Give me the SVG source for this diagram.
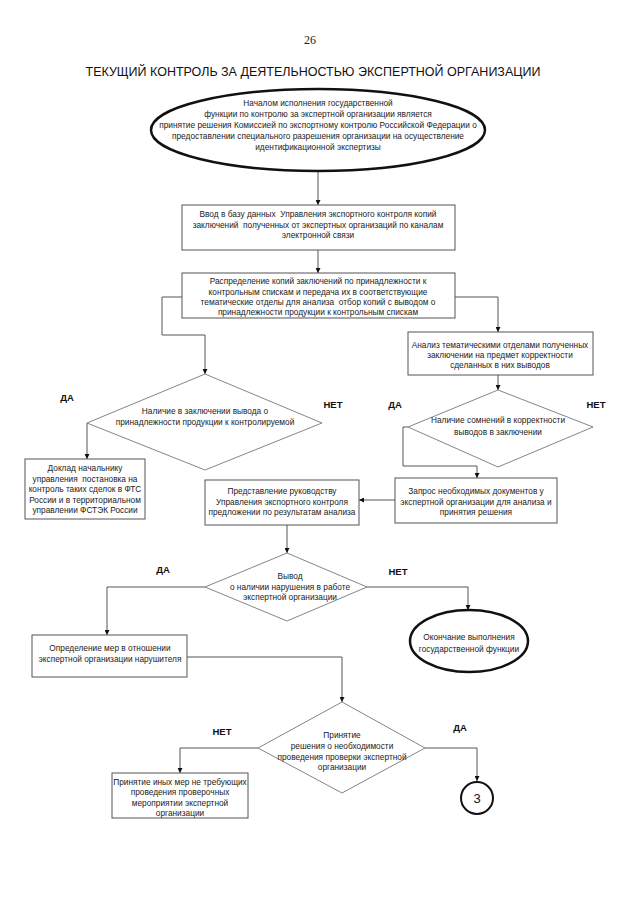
<svg xmlns="http://www.w3.org/2000/svg" width="640" height="905" viewBox="0 0 640 905">
<style>
  .t{font-family:"Liberation Sans",Arial,sans-serif;font-size:8.3px;fill:#222;text-anchor:middle;white-space:pre}
  .lbl{font-family:"Liberation Sans",Arial,sans-serif;font-size:9.5px;font-weight:bold;fill:#111;text-anchor:middle}
  .box{fill:#fff;stroke:#555;stroke-width:1}
  .ell{fill:#fff;stroke:#111;stroke-width:2.5}
  .dia{fill:#fff;stroke:#777;stroke-width:0.9}
  .con{fill:none;stroke:#444;stroke-width:0.9}
</style>
<defs>
  <marker id="arr" viewBox="0 0 10 10" refX="10" refY="5" markerWidth="5" markerHeight="5" markerUnits="userSpaceOnUse" orient="auto">
    <path d="M0,0 L10,5 L0,10 z" fill="#111"/>
  </marker>
</defs>
<rect width="640" height="905" fill="#fff"/>
<text x="310" y="44" style="font-family:'Liberation Serif',serif;font-size:12px;fill:#222" text-anchor="middle">26</text>
<text x="313" y="76" style="font-family:'Liberation Sans',Arial,sans-serif;font-size:12.5px;fill:#111" text-anchor="middle">ТЕКУЩИЙ КОНТРОЛЬ ЗА ДЕЯТЕЛЬНОСТЬЮ ЭКСПЕРТНОЙ ОРГАНИЗАЦИИ</text>

<g id="connectors">
  <path class="con" d="M318,171 V205" marker-end="url(#arr)"/>
  <path class="con" d="M318,250 V273" marker-end="url(#arr)"/>
  <path class="con" d="M455,297 H498 V332" marker-end="url(#arr)"/>
  <path class="con" d="M498,375 V390" marker-end="url(#arr)"/>
  <path class="con" d="M408,427 H403 V466 H477 V478" marker-end="url(#arr)"/>
  <path class="con" d="M395,500 H359" marker-end="url(#arr)"/>
  <path class="con" d="M287,525 V553" marker-end="url(#arr)"/>
  <path class="con" d="M182,297 H162 V335 H205 V374" marker-end="url(#arr)"/>
  <path class="con" d="M87,423 V459" marker-end="url(#arr)"/>
  <path class="con" d="M205,587 H107 V635" marker-end="url(#arr)"/>
  <path class="con" d="M367,587 H468 V610" marker-end="url(#arr)"/>
  <path class="con" d="M187,657 H342 V702" marker-end="url(#arr)"/>
  <path class="con" d="M258,748 H180 V773" marker-end="url(#arr)"/>
  <path class="con" d="M425,748 H477 V781" marker-end="url(#arr)"/>
</g>

<g id="start">
  <ellipse class="ell" cx="318" cy="130" rx="167" ry="41"/>
  <text class="t" x="318" y="106">Началом исполнения государственной</text>
  <text class="t" x="318" y="117">функции по контролю за экспертной организации является</text>
  <text class="t" x="318" y="128">принятие решения Комиссией по экспортному контролю Российской Федерации о</text>
  <text class="t" x="318" y="139">предоставлении специального разрешения организации на осуществление</text>
  <text class="t" x="318" y="150">идентификационной экспертизы</text>
</g>

<g id="input">
  <rect class="box" x="182" y="205" width="273" height="45"/>
  <text class="t" x="318" y="217">Ввод в базу данных  Управления экспортного контроля копий</text>
  <text class="t" x="318" y="228">заключений  полученных от экспертных организаций по каналам</text>
  <text class="t" x="318" y="238">электронной связи</text>
</g>

<g id="distribution">
  <rect class="box" x="182" y="273" width="273" height="45"/>
  <text class="t" x="318" y="284">Распределение копий заключений по принадлежности к</text>
  <text class="t" x="318" y="295">контрольным спискам и передача их в соответствующие</text>
  <text class="t" x="318" y="305">тематические отделы для анализа  отбор копий с выводом о</text>
  <text class="t" x="318" y="315">принадлежности продукции к контрольным спискам</text>
</g>

<g id="analysis">
  <rect class="box" x="408" y="332" width="185" height="43"/>
  <text class="t" x="500" y="348">Анализ тематическими отделами полученных</text>
  <text class="t" x="500" y="358">заключении на предмет корректности</text>
  <text class="t" x="500" y="368">сделанных в них выводов</text>
</g>

<g id="doubt">
  <polygon class="dia" points="498,390 593,427 498,467 408,427"/>
  <text class="t" x="498" y="423">Наличие сомнений в корректности</text>
  <text class="t" x="498" y="435">выводов в заключении</text>
  <text class="lbl" x="395" y="408">ДА</text>
  <text class="lbl" x="596" y="408">НЕТ</text>
</g>

<g id="request">
  <rect class="box" x="395" y="478" width="162" height="45"/>
  <text class="t" x="476" y="494">Запрос необходимых документов у</text>
  <text class="t" x="476" y="505">экспертной организации для анализа и</text>
  <text class="t" x="476" y="515">принятия решения</text>
</g>

<g id="present">
  <rect class="box" x="205" y="480" width="154" height="45"/>
  <text class="t" x="282" y="494">Представление руководству</text>
  <text class="t" x="282" y="505">Управления экспортного контроля</text>
  <text class="t" x="282" y="515">предложении по результатам анализа</text>
</g>

<g id="belong">
  <polygon class="dia" points="205,374 322,423 205,470 87,423"/>
  <text class="t" x="205" y="414">Наличие в заключении вывода о</text>
  <text class="t" x="205" y="425">принадлежности продукции к контролируемой</text>
  <text class="lbl" x="67" y="401">ДА</text>
  <text class="lbl" x="333" y="408">НЕТ</text>
</g>

<g id="report">
  <rect class="box" x="25" y="459" width="120" height="60"/>
  <text class="t" x="85" y="471">Доклад начальнику</text>
  <text class="t" x="85" y="482">управления  постановка на</text>
  <text class="t" x="85" y="492">контроль таких сделок в ФТС</text>
  <text class="t" x="85" y="503">России и в территориальном</text>
  <text class="t" x="85" y="513">управлении ФСТЭК России</text>
</g>

<g id="violation">
  <polygon class="dia" points="287,553 367,587 287,621 205,587"/>
  <text class="t" x="290" y="579">Вывод</text>
  <text class="t" x="290" y="590">о наличии нарушения в работе</text>
  <text class="t" x="290" y="600">экспертной организации</text>
  <text class="lbl" x="163" y="573">ДА</text>
  <text class="lbl" x="398" y="575">НЕТ</text>
</g>

<g id="end">
  <ellipse class="ell" cx="469" cy="641" rx="59" ry="31"/>
  <text class="t" x="469" y="640">Окончание выполнения</text>
  <text class="t" x="469" y="652">государственной функции</text>
</g>

<g id="measures">
  <rect class="box" x="32" y="635" width="155" height="42"/>
  <text class="t" x="110" y="651">Определение мер в отношении</text>
  <text class="t" x="110" y="662">экспертной организации нарушителя</text>
</g>

<g id="inspection">
  <polygon class="dia" points="342,702 425,748 342,793 258,748"/>
  <text class="t" x="342" y="738">Принятие</text>
  <text class="t" x="342" y="749">решения о необходимости</text>
  <text class="t" x="342" y="760">проведения проверки экспертной</text>
  <text class="t" x="342" y="770">организации</text>
  <text class="lbl" x="222" y="735">НЕТ</text>
  <text class="lbl" x="460" y="731">ДА</text>
</g>

<g id="other">
  <rect class="box" x="112" y="773" width="136" height="45"/>
  <text class="t" x="180" y="785">Принятие иных мер не требующих</text>
  <text class="t" x="180" y="795">проведения проверочных</text>
  <text class="t" x="180" y="806">мероприятии экспертной</text>
  <text class="t" x="180" y="816">организации</text>
</g>

<g id="ref3">
  <circle cx="477" cy="798" r="16" fill="#fff" stroke="#111" stroke-width="2"/>
  <text x="477" y="803" style="font-family:'Liberation Sans',Arial,sans-serif;font-size:13px;fill:#111" text-anchor="middle">3</text>
</g>
</svg>
